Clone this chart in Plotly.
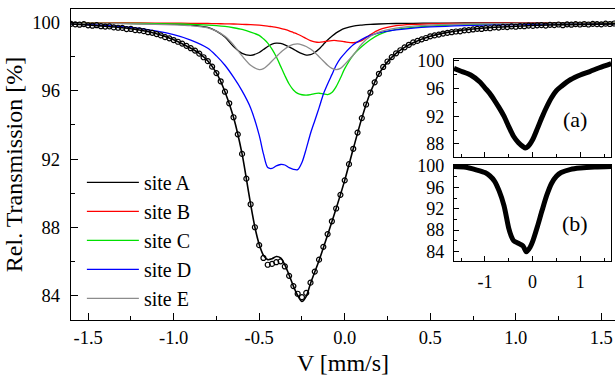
import numpy as np
import plotly.graph_objects as go

# ---------------- data ----------------
comp_x = [-1.6, -1.4, -1.2, -1.0, -0.9, -0.8, -0.75, -0.7, -0.65, -0.6, -0.55, -0.5,
          -0.475, -0.45, -0.425, -0.4, -0.375, -0.35, -0.325, -0.3, -0.275, -0.25,
          -0.225, -0.2, -0.175, -0.15, -0.125, -0.1, -0.075, -0.05, -0.025, 0.0,
          0.05, 0.1, 0.15, 0.2, 0.3, 0.4, 0.5, 0.7, 1.0, 1.3, 1.6]

site_a = [99.97, 99.96, 99.94, 99.90, 99.86, 99.72, 99.50, 99.15, 98.60, 98.20, 98.08, 98.25,
          98.42, 98.60, 98.74, 98.80, 98.78, 98.70, 98.58, 98.45, 98.30, 98.18,
          98.10, 98.12, 98.25, 98.45, 98.72, 98.98, 99.20, 99.40, 99.55, 99.66,
          99.80, 99.86, 99.90, 99.92, 99.95, 99.96, 99.97, 99.98, 99.98, 99.99, 99.99]

site_b = [99.99, 99.98, 99.98, 99.97, 99.96, 99.95, 99.94, 99.93, 99.92, 99.90, 99.88, 99.85,
          99.83, 99.80, 99.76, 99.72, 99.67, 99.60, 99.52, 99.42, 99.32, 99.20,
          99.07, 98.95, 98.87, 98.84, 98.87, 98.92, 98.95, 98.95, 98.92, 98.88,
          98.82, 98.95, 99.30, 99.58, 99.82, 99.90, 99.93, 99.96, 99.97, 99.98, 99.98]

site_c = [99.97, 99.96, 99.95, 99.93, 99.90, 99.86, 99.83, 99.78, 99.70, 99.60, 99.45, 99.25,
          99.05, 98.80, 98.45, 98.00, 97.45, 96.90, 96.40, 96.05, 95.85, 95.77,
          95.75, 95.78, 95.84, 95.86, 95.82, 95.78, 95.90, 96.25, 96.75, 97.30,
          98.10, 98.60, 99.00, 99.30, 99.60, 99.72, 99.80, 99.88, 99.93, 99.95, 99.97]

site_d = [99.93, 99.84, 99.66, 99.30, 98.98, 98.50, 98.05, 97.50, 96.80, 96.00, 95.00, 93.40,
          92.30, 91.50, 91.45, 91.60, 91.68, 91.65, 91.50, 91.40, 91.38, 91.80,
          92.60, 93.50, 94.25, 95.00, 95.80, 96.40, 96.95, 97.50, 97.90, 98.20,
          98.70, 99.02, 99.25, 99.40, 99.57, 99.68, 99.75, 99.83, 99.89, 99.92, 99.94]

site_e = [99.97, 99.95, 99.92, 99.87, 99.82, 99.70, 99.50, 99.20, 98.70, 98.05, 97.50, 97.25,
          97.30, 97.50, 97.75, 98.00, 98.25, 98.45, 98.62, 98.72, 98.75, 98.70,
          98.60, 98.45, 98.25, 98.00, 97.75, 97.50, 97.32, 97.25, 97.32, 97.55,
          98.10, 98.75, 99.20, 99.45, 99.68, 99.80, 99.86, 99.92, 99.95, 99.97, 99.98]

fit_x = [-1.6, -1.5, -1.4, -1.3, -1.2, -1.1, -1.0, -0.9, -0.85, -0.8,
         -0.75, -0.7, -0.65, -0.6, -0.575, -0.55, -0.525, -0.5, -0.475, -0.45,
         -0.425, -0.4, -0.375, -0.35, -0.325, -0.3, -0.275, -0.25, -0.225, -0.2,
         -0.15, -0.1, -0.05, 0.0, 0.05, 0.1, 0.15, 0.2, 0.25, 0.3,
         0.35, 0.4, 0.5, 0.6, 0.7, 0.8, 1.0, 1.2, 1.4, 1.6]
fit_y = [99.92, 99.86, 99.79, 99.70, 99.57, 99.35, 99.00, 98.50, 98.20, 97.75,
         97.05, 95.95, 94.45, 92.30, 90.85, 89.35, 88.00, 87.00, 86.35, 86.10,
         86.15, 86.28, 86.20, 85.80, 85.20, 84.55, 84.00, 83.65, 83.95, 84.70,
         86.05, 87.55, 89.10, 90.75, 92.60, 94.40, 95.90, 97.00, 97.70, 98.20,
         98.55, 98.82, 99.20, 99.43, 99.57, 99.67, 99.79, 99.86, 99.90, 99.93]

data_x = np.round(np.linspace(-1.6, 1.6, 129), 4)
data_y = [99.93, 99.90, 99.88, 99.91, 99.84, 99.82, 99.85, 99.79, 99.77, 99.78,
          99.72, 99.70, 99.69, 99.62, 99.63, 99.56, 99.55, 99.50, 99.44, 99.40,
          99.33, 99.25, 99.15, 99.08, 98.98, 98.88, 98.77, 98.64, 98.50, 98.36,
          98.18, 97.97, 97.74, 97.42, 97.04, 96.56, 95.95, 95.27, 94.45, 93.45,
          92.30, 90.85, 89.35, 88.00, 86.95, 86.20, 85.80, 85.85, 85.95, 86.00,
          85.70, 85.15, 84.55, 84.10, 83.90, 84.15, 84.75, 85.40, 86.10, 86.85,
          87.60, 88.35, 89.10, 89.90, 90.75, 91.70, 92.60, 93.55, 94.40, 95.20,
          95.90, 96.50, 97.00, 97.40, 97.72, 97.98, 98.20, 98.38, 98.55, 98.70,
          98.84, 98.93, 99.02, 99.10, 99.20, 99.25, 99.30, 99.36, 99.40, 99.44,
          99.48, 99.49, 99.55, 99.56, 99.60, 99.64, 99.63, 99.68, 99.67, 99.72,
          99.71, 99.75, 99.74, 99.78, 99.76, 99.80, 99.79, 99.83, 99.81, 99.84,
          99.86, 99.83, 99.87, 99.86, 99.89, 99.85, 99.90, 99.88, 99.91, 99.89,
          99.92, 99.89, 99.93, 99.91, 99.90, 99.94, 99.92, 99.95, 99.93]

inset_a_x = [-1.65, -1.5, -1.3, -1.1, -1.0, -0.9, -0.8, -0.7, -0.6, -0.5, -0.4, -0.3, -0.2,
             -0.15, -0.1, 0.0, 0.1, 0.2, 0.3, 0.4, 0.5, 0.6, 0.8, 1.0, 1.2, 1.4, 1.65]
inset_a_y = [98.9, 98.5, 97.95, 96.9, 96.1, 95.3, 94.3, 93.2, 92.0, 90.5, 89.1, 88.2, 87.6,
             87.4, 87.6, 88.6, 90.2, 91.9, 93.4, 94.7, 95.7, 96.3, 97.3, 97.95, 98.45, 99.0, 99.6]

inset_b_x = [-1.65, -1.4, -1.2, -1.0, -0.9, -0.8, -0.7, -0.6, -0.5, -0.45, -0.4, -0.3, -0.2,
             -0.13, -0.05, 0.0, 0.1, 0.2, 0.3, 0.4, 0.5, 0.6, 0.8, 1.0, 1.3, 1.65]
inset_b_y = [99.95, 99.8, 99.35, 98.8, 98.2, 97.2, 95.3, 92.6, 88.3, 86.9, 86.0, 85.5, 85.0,
             83.9, 84.8, 85.8, 88.6, 91.7, 94.6, 96.8, 98.1, 98.8, 99.4, 99.65, 99.85, 99.95]

names = ["site A", "site B", "site C", "site D", "site E"]
colors = ["#000000", "#ff0000", "#00e000", "#0000ff", "#8c8c8c"]

main_xticks = [-1.5, -1.0, -0.5, 0.0, 0.5, 1.0, 1.5]
main_xticktext = ["-1.5", "-1.0", "-0.5", "0.0", "0.5", "1.0", "1.5"]
main_yticks = [84, 88, 92, 96, 100]
inset_xticks = [-1, 0, 1]
inset_xticktext = ["-1", "0", "1"]
inset_a_yticks = [88, 92, 96, 100]
inset_b_yticks = [84, 88, 92, 96, 100]

FONT = "Liberation Serif"

fig = go.Figure()
for nm, ys, col in zip(names, [site_a, site_b, site_c, site_d, site_e], colors):
    fig.add_trace(go.Scatter(x=comp_x, y=ys, mode="lines", name=nm,
                             line=dict(color=col, width=1.3, shape="spline", smoothing=0.8)))
fig.add_trace(go.Scatter(x=fit_x, y=fit_y, mode="lines", showlegend=False,
                         line=dict(color="black", width=1.6, shape="spline", smoothing=0.8)))
fig.add_trace(go.Scatter(x=data_x, y=data_y, mode="markers", showlegend=False,
                         marker=dict(symbol="circle-open", size=5, color="black",
                                     line=dict(width=1.2, color="black"))))
fig.add_trace(go.Scatter(x=inset_a_x, y=inset_a_y, xaxis="x2", yaxis="y2", mode="lines",
                         showlegend=False,
                         line=dict(color="black", width=5, shape="spline", smoothing=0.8)))
fig.add_trace(go.Scatter(x=inset_b_x, y=inset_b_y, xaxis="x3", yaxis="y3", mode="lines",
                         showlegend=False,
                         line=dict(color="black", width=5, shape="spline", smoothing=0.8)))

axis_common = dict(showline=True, linecolor="black", linewidth=1.4, ticks="inside",
                   tickcolor="black", tickwidth=1.2, showgrid=False, zeroline=False)

fig.update_layout(
    width=615, height=376,
    margin=dict(l=71, r=0, t=7, b=56),
    paper_bgcolor="white", plot_bgcolor="white",
    font=dict(family=FONT, color="black", size=18),
    xaxis=dict(domain=[0, 1], range=[-1.6, 1.58], tickvals=main_xticks, ticktext=main_xticktext,
               ticklen=7, mirror=True, ticklabelstandoff=1,
               minor=dict(ticks="inside", ticklen=4, tick0=0, dtick=0.25, tickcolor="black"),
               title=dict(text="V [mm/s]", font=dict(size=24), standoff=8),
               tickfont=dict(size=18.5), **axis_common),
    yaxis=dict(domain=[0, 1], range=[82.56, 100.8], tickvals=main_yticks, ticklen=7,
               mirror=False, ticklabelstandoff=6,
               minor=dict(ticks="inside", ticklen=4, tick0=0, dtick=2, tickcolor="black"),
               title=dict(text="Rel. Transmission [%]", font=dict(size=24), standoff=2),
               tickfont=dict(size=18.5), **axis_common),
    xaxis2=dict(domain=[0.704, 0.993], anchor="y2", range=[-1.65, 1.65], tickvals=inset_xticks,
                showticklabels=False, ticklen=5, mirror=True,
                minor=dict(ticks="inside", ticklen=3, tick0=0, dtick=0.5, tickcolor="black"),
                **axis_common),
    yaxis2=dict(domain=[0.524, 0.840], anchor="x2", range=[86.1, 100.3], tickvals=inset_a_yticks,
                ticklen=5, mirror=True, ticklabelstandoff=5, tickfont=dict(size=18),
                minor=dict(ticks="inside", ticklen=3, tick0=0, dtick=2, tickcolor="black"),
                **axis_common),
    xaxis3=dict(domain=[0.704, 0.993], anchor="y3", range=[-1.65, 1.65], tickvals=inset_xticks,
                ticktext=inset_xticktext, ticklen=5, mirror=True, ticklabelstandoff=4,
                tickfont=dict(size=18),
                minor=dict(ticks="inside", ticklen=3, tick0=0, dtick=0.5, tickcolor="black"),
                **axis_common),
    yaxis3=dict(domain=[0.1885, 0.498], anchor="x3", range=[82.1, 100.2], tickvals=inset_b_yticks,
                ticklen=5, mirror=True, ticklabelstandoff=5, tickfont=dict(size=18),
                minor=dict(ticks="inside", ticklen=3, tick0=0, dtick=2, tickcolor="black"),
                **axis_common),
    legend=dict(x=0.02, y=0.505, xanchor="left", yanchor="top", bgcolor="rgba(0,0,0,0)",
                font=dict(size=20), itemwidth=52, tracegroupgap=0),
    annotations=[
        dict(text="(a)", x=0.9, y=91.5, xref="x2", yref="y2", showarrow=False,
             font=dict(size=22)),
        dict(text="(b)", x=0.9, y=89.2, xref="x3", yref="y3", showarrow=False,
             font=dict(size=22)),
    ],
)

fig.write_html("out.html", config={"displayModeBar": False},
               post_script="document.body.style.margin='0px';document.body.style.padding='0px';")
